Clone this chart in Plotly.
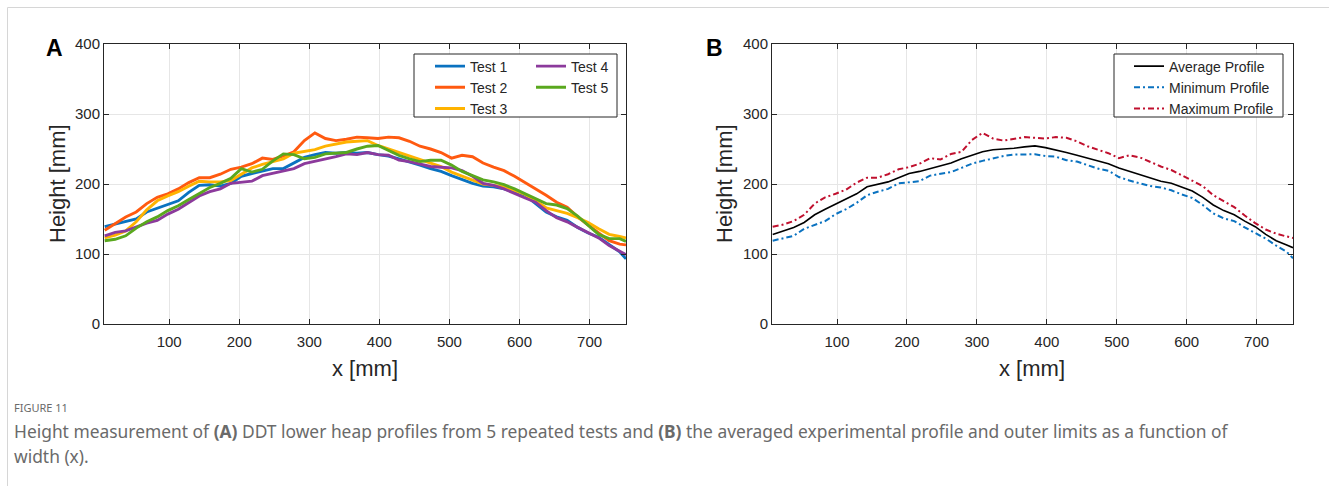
import plotly.graph_objects as go

W, H = 1329, 486

# ---------------- data ----------------
x_mm = [8, 23, 38, 53, 68, 83, 98, 113, 128, 143, 158, 173, 188, 203, 218, 233, 248, 263, 278, 293,
        308, 323, 338, 353, 368, 383, 398, 413, 428, 443, 458, 473, 488, 503, 518, 533, 548, 563, 578,
        593, 608, 623, 638, 653, 668, 683, 698, 713, 728, 743, 752]

test1 = [139, 143, 147, 150, 160, 165, 171, 176, 188, 198, 199, 197, 201, 211, 215, 218, 222, 222, 230, 238,
         242, 245, 244, 245, 244, 245, 242, 240, 236, 232, 227, 222, 218, 212, 206, 201, 197, 196, 193,
         189, 184, 172, 160, 153, 148, 138, 130, 124, 114, 103, 93]
test2 = [134, 143, 153, 160, 172, 181, 186, 193, 202, 209, 209, 214, 221, 224, 229, 237, 235, 240, 246, 262,
         273, 265, 262, 264, 267, 266, 265, 267, 266, 261, 254, 250, 245, 237, 241, 239, 230, 224, 219,
         211, 202, 194, 184, 174, 167, 153, 141, 130, 119, 114, 113]
test3 = [123, 127, 133, 146, 163, 176, 183, 189, 197, 204, 203, 203, 205, 214, 223, 228, 232, 236, 244, 246,
         249, 254, 257, 260, 261, 262, 255, 250, 245, 240, 235, 229, 225, 217, 211, 206, 200, 198, 196,
         191, 185, 176, 166, 162, 158, 152, 145, 136, 128, 125, 123]
test4 = [126, 131, 133, 139, 144, 148, 157, 164, 174, 183, 189, 193, 201, 203, 204, 212, 215, 218, 222, 229,
         232, 235, 239, 243, 242, 245, 242, 241, 234, 232, 228, 225, 224, 223, 219, 211, 201, 198, 193,
         186, 180, 174, 162, 152, 146, 138, 131, 123, 112, 104, 99]
test5 = [119, 121, 126, 137, 146, 153, 162, 169, 178, 187, 195, 201, 208, 222, 217, 221, 233, 243, 242, 236,
         238, 243, 244, 245, 250, 254, 255, 248, 241, 236, 232, 234, 234, 227, 218, 212, 206, 203, 199,
         193, 186, 178, 172, 170, 165, 154, 141, 128, 122, 122, 118]

avg_profile = [128, 133, 138, 145, 156, 164, 171, 178, 186, 196, 199, 203, 209, 215, 218, 222, 226, 230, 236, 241,
               246, 249, 249.5, 251, 253, 254.5, 252, 249, 245, 241, 237, 232, 229, 223, 218, 213, 208, 204, 201,
               196, 190, 181, 170, 162, 156, 147, 139, 128, 119, 113, 109]
max_profile = [139, 142, 147, 156, 172, 181, 186, 192, 202, 209, 209, 214, 221, 224, 229, 237, 235, 243, 246, 263,
               273, 265, 262, 265, 267, 266, 265, 267, 266, 261, 254, 249, 244, 237, 241, 238, 231, 225, 220,
               212, 205, 197, 184, 175, 167, 155, 144, 135, 129, 125, 123]
min_profile = [119, 122, 126, 136, 142, 147, 157, 164, 173, 184, 189, 193, 201, 203, 204, 212, 215, 217, 223, 229,
               233, 237, 240, 242, 242, 242.5, 240, 239, 234, 232, 227, 222, 219, 210, 205, 201, 197, 195, 191,
               185, 180, 170, 158, 151, 147, 138, 130, 122, 112, 103, 94]

test_names = ["Test 1", "Test 2", "Test 3", "Test 4", "Test 5"]
test_series = [test1, test2, test3, test4, test5]
test_colors = ["#0A72C0", "#FF5A10", "#FFB300", "#8C3A9C", "#5AA81E"]
test_legend = ["legend", "legend", "legend", "legend2", "legend2"]

x_ticks = [100, 200, 300, 400, 500, 600, 700]
y_ticks = [0, 100, 200, 300, 400]
x_range = [7, 752]
y_range = [0, 400]

caption_head = "FIGURE 11"
caption_l1 = ("Height measurement of <b>(A)</b> DDT lower heap profiles from 5 repeated tests and "
              "<b>(B)</b> the averaged experimental profile and outer limits as a function of")
caption_l2 = "width (x)."

# ---------------- layout helpers ----------------
def px_x(p):
    return p / W

def px_y(p):
    return 1 - p / H

fig = go.Figure()

for name, ys, col, lg in zip(test_names, test_series, test_colors, test_legend):
    fig.add_trace(go.Scatter(x=x_mm, y=ys, mode="lines", name=name, legend=lg,
                             line=dict(color=col, width=2.9), xaxis="x", yaxis="y"))

fig.add_trace(go.Scatter(x=x_mm, y=avg_profile, mode="lines", name="Average Profile", legend="legend3",
                         line=dict(color="#000000", width=1.6), xaxis="x2", yaxis="y2"))
fig.add_trace(go.Scatter(x=x_mm, y=min_profile, mode="lines", name="Minimum Profile", legend="legend3",
                         line=dict(color="#0A72C0", width=2, dash="6px,3px,2px,3px"), xaxis="x2", yaxis="y2"))
fig.add_trace(go.Scatter(x=x_mm, y=max_profile, mode="lines", name="Maximum Profile", legend="legend3",
                         line=dict(color="#C0102E", width=2, dash="6px,3px,2px,3px"), xaxis="x2", yaxis="y2"))

tick_font = dict(family="Liberation Sans, Arial, sans-serif", size=15, color="#262626")
axis_common = dict(showline=True, mirror="ticks", linecolor="#262626", linewidth=1,
                   ticks="inside", ticklen=5, tickcolor="#262626", tickwidth=1,
                   showgrid=True, gridcolor="#E6E6E6", gridwidth=1, zeroline=False,
                   tickfont=tick_font, automargin=False)
x_extra = dict(ticklabelstandoff=4)

ydom = [px_y(324), px_y(44)]
fig.update_layout(
    width=W, height=H, autosize=False,
    margin=dict(l=0, r=0, t=0, b=0),
    paper_bgcolor="white", plot_bgcolor="white",
    showlegend=True,
    xaxis=dict(domain=[px_x(104), px_x(626)], range=x_range, tickvals=x_ticks, anchor="y", **axis_common, **x_extra),
    yaxis=dict(domain=ydom, range=y_range, tickvals=y_ticks, anchor="x", **axis_common),
    xaxis2=dict(domain=[px_x(772), px_x(1293)], range=x_range, tickvals=x_ticks, anchor="y2", **axis_common, **x_extra),
    yaxis2=dict(domain=ydom, range=y_range, tickvals=y_ticks, anchor="x2", **axis_common),
)

leg_font = dict(family="Liberation Sans, Arial, sans-serif", size=14, color="#262626")
leg_common = dict(xanchor="left", yanchor="top", bgcolor="rgba(0,0,0,0)", borderwidth=0,
                  font=leg_font, tracegroupgap=0, itemclick=False, itemdoubleclick=False)
fig.update_layout(
    legend=dict(x=px_x(430), y=px_y(50.5), **leg_common),
    legend2=dict(x=px_x(531), y=px_y(50.5), **leg_common),
    legend3=dict(x=px_x(1129), y=px_y(50.5), **leg_common),
)

shapes = [
    # legend boxes
    dict(type="rect", xref="paper", yref="paper", x0=px_x(414), x1=px_x(617), y0=px_y(117), y1=px_y(54),
         line=dict(color="#262626", width=1), fillcolor="white", layer="above"),
    dict(type="rect", xref="paper", yref="paper", x0=px_x(1114), x1=px_x(1283), y0=px_y(117), y1=px_y(54),
         line=dict(color="#262626", width=1), fillcolor="white", layer="above"),
    # page frame
    dict(type="line", xref="paper", yref="paper", x0=px_x(7.5), x1=1, y0=px_y(7.5), y1=px_y(7.5),
         line=dict(color="#D6D6D6", width=1)),
    dict(type="line", xref="paper", yref="paper", x0=px_x(7.5), x1=px_x(7.5), y0=0, y1=px_y(7.5),
         line=dict(color="#D6D6D6", width=1)),
]
fig.update_layout(shapes=shapes)

title_font = dict(family="Liberation Sans, Arial, sans-serif", size=22, color="#262626")
letter_font = dict(family="Liberation Sans, Arial, sans-serif", size=23, color="#000000")
ann = [
    dict(text="<b>A</b>", x=px_x(54), y=px_y(48), font=letter_font,
         showarrow=False, xanchor="center", yanchor="middle"),
    dict(text="<b>B</b>", x=px_x(714), y=px_y(48), font=letter_font,
         showarrow=False, xanchor="center", yanchor="middle"),
    dict(text="Height [mm]", x=px_x(57), y=px_y(184), textangle=-90, font=title_font,
         showarrow=False, xanchor="center", yanchor="middle"),
    dict(text="Height [mm]", x=px_x(724), y=px_y(184), textangle=-90, font=title_font,
         showarrow=False, xanchor="center", yanchor="middle"),
    dict(text="x [mm]", x=px_x(365), y=px_y(368), font=title_font,
         showarrow=False, xanchor="center", yanchor="middle"),
    dict(text="x [mm]", x=px_x(1032), y=px_y(368), font=title_font,
         showarrow=False, xanchor="center", yanchor="middle"),
    dict(text=caption_head, x=px_x(12), y=px_y(407), font=dict(family="Noto Sans", size=11, color="#6A6A6A"),
         showarrow=False, xanchor="left", yanchor="middle"),
    dict(text=caption_l1, x=px_x(12), y=px_y(431), font=dict(family="Noto Sans", size=17.4, color="#6A6A6A"),
         showarrow=False, xanchor="left", yanchor="middle"),
    dict(text=caption_l2, x=px_x(12), y=px_y(456), font=dict(family="Noto Sans", size=17.4, color="#6A6A6A"),
         showarrow=False, xanchor="left", yanchor="middle"),
]
for a in ann:
    a.update(xref="paper", yref="paper")
fig.update_layout(annotations=ann)

fig.write_html("out.html")
